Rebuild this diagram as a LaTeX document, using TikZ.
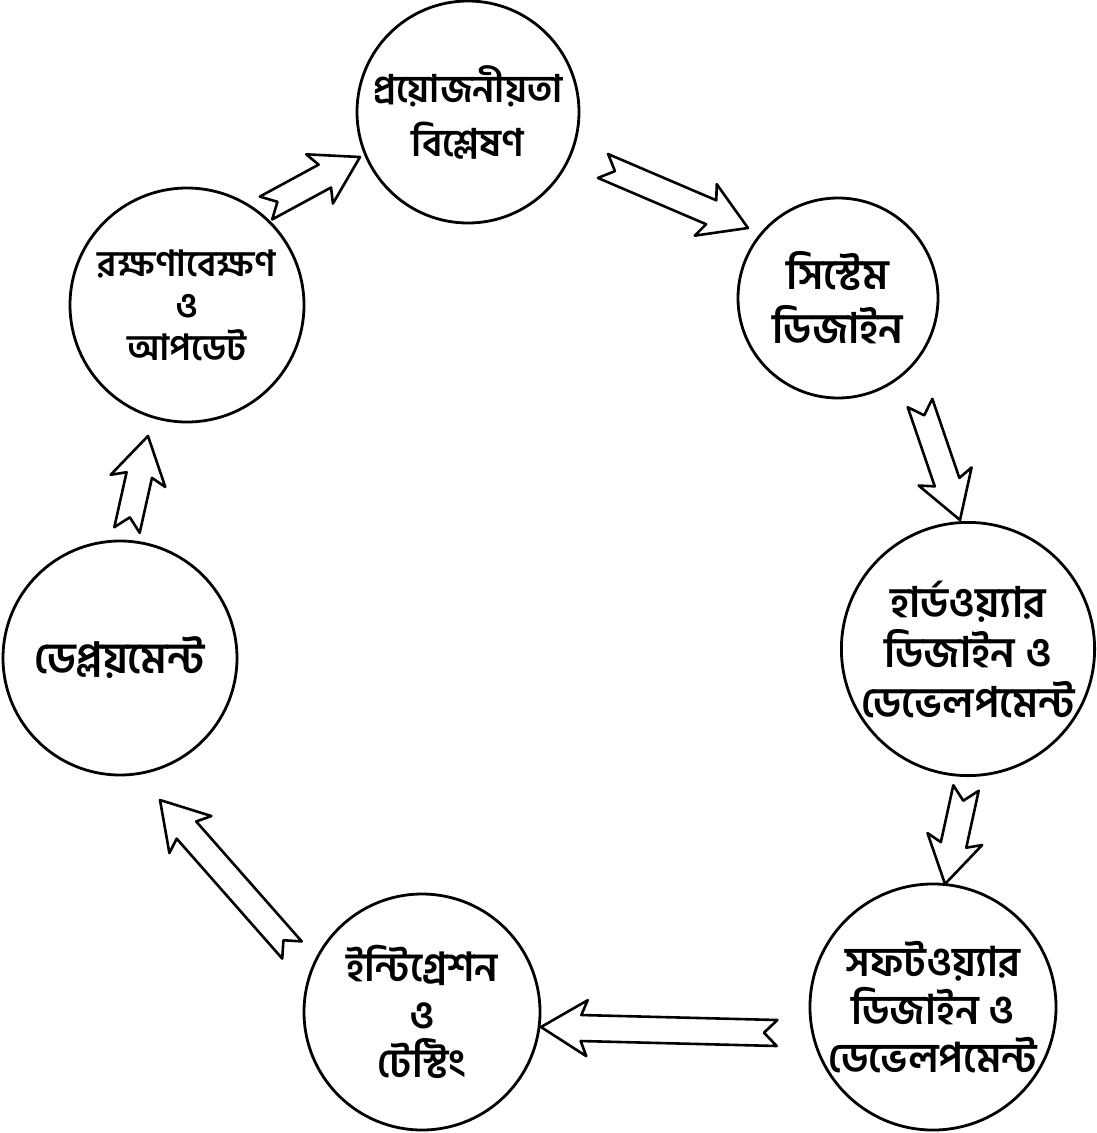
\documentclass[tikz,border=0pt]{standalone}
\usepackage{fontspec}
\newfontfamily\bn[Script=Bengali]{Hind Siliguri}
\usetikzlibrary{calc}
\newcommand\fs[2]{\fontsize{#1pt}{#2pt}\selectfont}
\tikzset{
  stage/.style={circle, draw=black, line width=2.8pt, align=center,
    font=\bn\bfseries, inner sep=0pt},
  fat/.style={draw=black, line width=2.6pt, line join=round, fill=white}
}
\newcommand\fatarrow[2]{%
  \draw[fat] let \p1=($(#2)-(#1)$), \n1={atan2(\y1,\x1)}, \n2={veclen(\x1,\y1)} in
    [shift={(#1)}, rotate=\n1]
    (0,13) -- (\n2-40,13) -- (\n2-46,28) -- (\n2,0) -- (\n2-46,-28)
    -- (\n2-40,-13) -- (0,-13) -- (13,0) -- cycle;}
\begin{document}
\begin{tikzpicture}[x=1pt, y=-1pt]
\useasboundingbox[fill=white] (0,0) rectangle (1097,1133);

\node[stage, minimum size=222pt, font=\bn\bfseries\fs{38}{54}] (req) at (468,112) {প্রয়োজনীয়তা\\বিশ্লেষণ};
\node[stage, minimum size=200pt, font=\bn\bfseries\fs{42}{54}] (sys) at (838,298) {সিস্টেম\\ডিজাইন};
\node[stage, minimum size=244pt, font=\bn\bfseries\fs{42}{50}] (hw) at (968,649) {হার্ডওয়্যার\\ডিজাইন ও\\ডেভেলপমেন্ট};
\node[stage, minimum size=236pt, font=\bn\bfseries\fs{41}{48}] (sw) at (933,1007) {সফটওয়্যার\\ডিজাইন ও\\ডেভেলপমেন্ট};
\node[stage, minimum size=236pt, font=\bn\bfseries\fs{40}{48}] (int) at (422,1012) {ইন্টিগ্রেশন\\ও\\টেস্টিং};
\node[stage, minimum size=234pt, font=\bn\bfseries\fs{43}{50}] (dep) at (120,658) {ডেপ্লয়মেন্ট};
\node[stage, minimum size=234pt, font=\bn\bfseries\fs{36}{42}] (mnt) at (187,305) {রক্ষণাবেক্ষণ\\ও\\আপডেট};

\coordinate (a1t) at (266,208); \coordinate (a1h) at (360,157);
\coordinate (a2t) at (603,166); \coordinate (a2h) at (748,228);
\coordinate (a3t) at (920,403); \coordinate (a3h) at (960,520);
\coordinate (a4t) at (966,788); \coordinate (a4h) at (945,884);
\coordinate (a5t) at (777,1033); \coordinate (a5h) at (541,1027);
\coordinate (a6t) at (292,950); \coordinate (a6h) at (160,800);
\coordinate (a7t) at (127,530); \coordinate (a7h) at (148,436);

\fatarrow{a1t}{a1h}
\fatarrow{a2t}{a2h}
\fatarrow{a3t}{a3h}
\fatarrow{a4t}{a4h}
\fatarrow{a5t}{a5h}
\fatarrow{a6t}{a6h}
\fatarrow{a7t}{a7h}
\end{tikzpicture}
\end{document}
